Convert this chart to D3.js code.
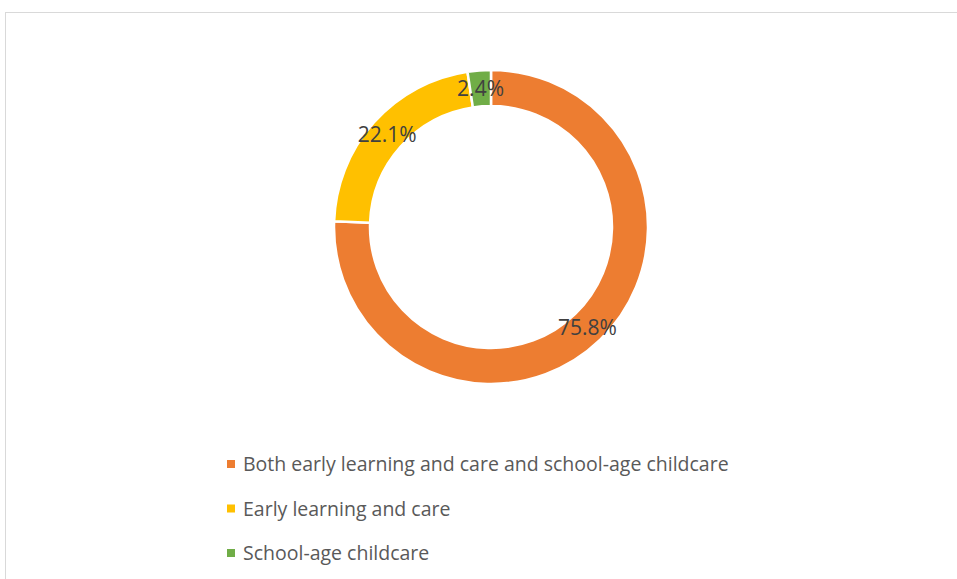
<!DOCTYPE html>
<html>
<head>
<meta charset="utf-8">
<script src="https://cdn.jsdelivr.net/npm/d3@7"></script>
<style>
  body { margin: 0; background: #fff; }
  svg { display: block; font-family: "Open Sans", "Noto Sans", sans-serif; }
</style>
</head>
<body>
<svg id="chart" width="957" height="579"></svg>
<script>
var categories = [
	'Both early learning and care and school-age childcare',
	'Early learning and care',
	'School-age childcare'
];
var values = [75.8, 22.1, 2.4];
var labels = ['75.8%', '22.1%', '2.4%'];
var colors = ['#ED7D31', '#FFC000', '#70AD47'];

var svg = d3.select('#chart');

// chart area border (right and bottom edges run off the page)
svg.append('rect')
	.attr('x', 5.5).attr('y', 12.5)
	.attr('width', 960).attr('height', 600)
	.attr('fill', 'none')
	.attr('stroke', '#d9d9d9')
	.attr('stroke-width', 1);

var cx = 491, cy = 227;
var outerR = 157, innerR = 121;

var pie = d3.pie().sort(null).value(function (d) { return d; });
var arc = d3.arc().innerRadius(innerR).outerRadius(outerR);

var g = svg.append('g').attr('transform', 'translate(' + cx + ',' + cy + ')');
var arcs = pie(values);

g.selectAll('path')
	.data(arcs)
	.enter().append('path')
	.attr('d', arc)
	.attr('fill', function (d, i) { return colors[i]; })
	.attr('stroke', '#fff')
	.attr('stroke-width', 2.5);

g.selectAll('text.lbl')
	.data(arcs)
	.enter().append('text')
	.attr('class', 'lbl')
	.attr('transform', function (d) { return 'translate(' + arc.centroid(d) + ')'; })
	.attr('text-anchor', 'middle')
	.attr('dy', '0.36em')
	.attr('font-size', 21)
	.attr('fill', '#404040')
	.text(function (d, i) { return labels[i]; });

// legend
var legendY = d3.scalePoint().domain(categories).range([464, 553]);
var legend = svg.append('g');
var item = legend.selectAll('g')
	.data(categories)
	.enter().append('g')
	.attr('transform', function (d) { return 'translate(227,' + legendY(d) + ')'; });

item.append('rect')
	.attr('x', 0).attr('y', -4)
	.attr('width', 8).attr('height', 8)
	.attr('fill', function (d, i) { return colors[i]; });

item.append('text')
	.attr('x', 16)
	.attr('dy', '0.36em')
	.attr('font-size', 19.5)
	.attr('fill', '#595959')
	.text(function (d) { return d; });
</script>
</body>
</html>
